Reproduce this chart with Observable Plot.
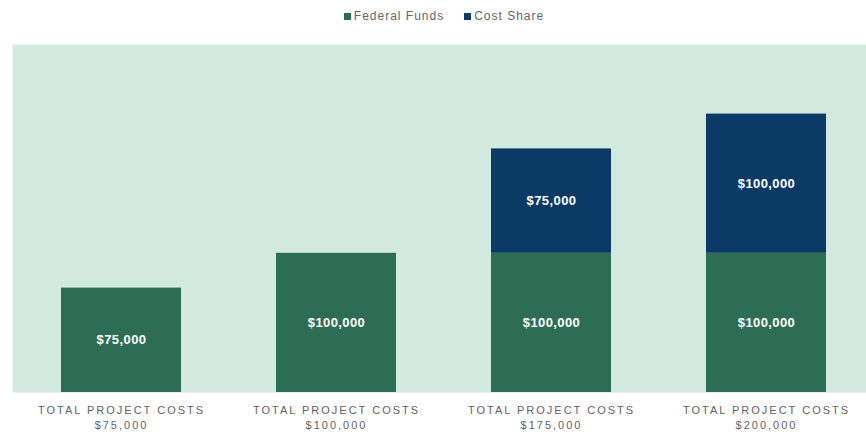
<!DOCTYPE html>
<html>
<head>
<meta charset="utf-8">
<script src="https://cdn.jsdelivr.net/npm/d3@7"></script>
<script src="https://cdn.jsdelivr.net/npm/@observablehq/plot@0.6"></script>
<style>
  html, body { margin: 0; padding: 0; background: #fff; }
  body { width: 866px; font-family: "Liberation Sans", Arial, sans-serif; }
  #legend { height: 30px; display: flex; justify-content: center; align-items: center; gap: 20px; font-size: 12px; letter-spacing: 1px; color: #666; padding-left: 22px; padding-top: 2px; box-sizing: border-box; }
  #legend span.sw { display: inline-block; width: 7px; height: 7px; margin-right: 3px; vertical-align: 0px; }
  #chart svg g[aria-label="x-axis tick label"] text { letter-spacing: 2px; }
  #chart svg g[aria-label="text"] text { letter-spacing: 0.4px; }
</style>
</head>
<body>
<div id="legend"></div>
<div id="chart"></div>
<script>
const categories = ["$75,000", "$100,000", "$175,000", "$200,000"];
const federalFunds = [75000, 100000, 100000, 100000];
const costShare = [0, 0, 75000, 100000];
const seriesNames = ["Federal Funds", "Cost Share"];
const seriesColors = ["#2e6d55", "#0b3a66"];

const rows = [];
categories.forEach((c, i) => {
  rows.push({cat: c, series: seriesNames[0], value: federalFunds[i]});
  rows.push({cat: c, series: seriesNames[1], value: costShare[i]});
});
const data = rows.filter(d => d.value > 0);
const fmt = v => "$" + d3.format(",")(v);

const legend = document.getElementById("legend");
seriesNames.forEach((s, i) => {
  const el = document.createElement("div");
  el.innerHTML = `<span class="sw" style="background:${seriesColors[i]}"></span>${s}`;
  legend.appendChild(el);
});

const chart = Plot.plot({
  width: 866,
  height: 404,
  marginTop: 14,
  marginBottom: 42,
  marginLeft: 12,
  marginRight: 0,
  style: {fontFamily: "Liberation Sans, Arial, sans-serif", background: "#fff"},
  x: {domain: categories, paddingInner: 0.444, paddingOuter: 0.2, align: 0.55, label: null, axis: null},
  y: {domain: [0, 250000], axis: null},
  color: {domain: seriesNames, range: seriesColors},
  marks: [
    Plot.frame({fill: "#d2e9e0", stroke: null}),
    Plot.barY(data, {x: "cat", y: "value", fill: "series", z: "series", order: seriesNames}),
    Plot.text(data, Plot.stackY({x: "cat", y: "value", z: "series", order: seriesNames, text: d => fmt(d.value),
      fill: "white", fontSize: 13, fontWeight: "bold"})),
    Plot.axisX({tickSize: 0, tickPadding: 11, fontSize: 11, fill: "#636363", lineHeight: 1.35, label: null,
      tickFormat: c => "TOTAL PROJECT COSTS\n" + c})
  ]
});
document.getElementById("chart").appendChild(chart);
</script>
</body>
</html>
